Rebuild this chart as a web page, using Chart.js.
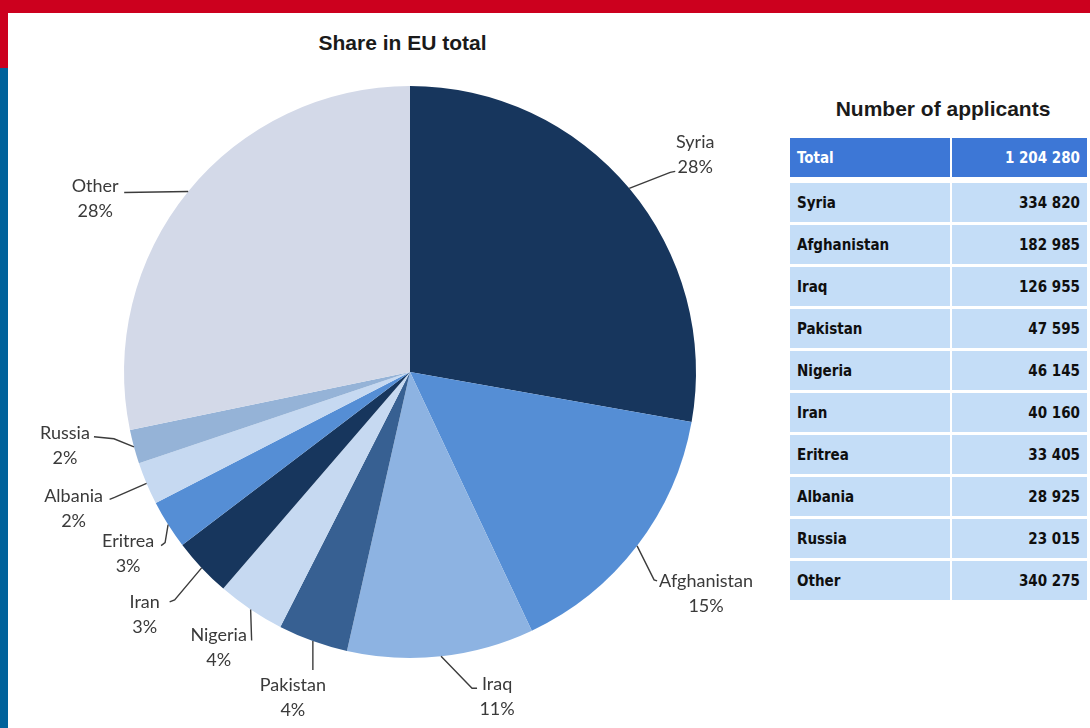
<!DOCTYPE html>
<html>
<head>
<meta charset="utf-8">
<script src="https://cdn.jsdelivr.net/npm/chart.js@4.4.1/dist/chart.umd.min.js"></script>
<style>
  body { margin: 0; width: 1090px; height: 728px; background: #fff; position: relative; overflow: hidden; font-family: Lato, sans-serif; }
  .topbar { position: absolute; left: 0; top: 0; width: 1090px; height: 13px; background: #cc001e; }
  .redside { position: absolute; left: 0; top: 0; width: 8px; height: 68px; background: #cc001e; }
  .blueside { position: absolute; left: 0; top: 68px; width: 8px; height: 660px; background: #00629b; }
  .title { position: absolute; left: 250px; width: 305px; top: 31px; text-align: center; font: bold 21px "Liberation Sans", Arial, sans-serif; color: #1a1a1a; }
  .ttitle { position: absolute; left: 800px; width: 286px; top: 97px; text-align: center; font: bold 21px "Liberation Sans", Arial, sans-serif; color: #1a1a1a; }
  #chartBox { position: absolute; left: 10px; top: 14px; width: 780px; height: 714px; }
  table { position: absolute; left: 790px; top: 138px; width: 297px; border-collapse: separate; border-spacing: 0; font: bold 15px "DejaVu Sans Condensed", "DejaVu Sans", sans-serif; color: #0f0f0f; }
  td { height: 39px; padding: 0 7px; background: #c4ddf7; border-bottom: 3px solid #fff; }
  td.num { text-align: right; border-left: 2px solid #fff; }
  tr.head td { background: #3d77d6; color: #fff; border-bottom-width: 6px; }
</style>
</head>
<body>
<div class="topbar"></div>
<div class="redside"></div>
<div class="blueside"></div>
<div class="title">Share in EU total</div>
<div class="ttitle">Number of applicants</div>
<div id="chartBox"><canvas id="pieChart"></canvas></div>
<table id="appTable"></table>
<script>
const countries = ['Syria', 'Afghanistan', 'Iraq', 'Pakistan', 'Nigeria', 'Iran', 'Eritrea', 'Albania', 'Russia', 'Other'];
const applicants = [334820, 182985, 126955, 47595, 46145, 40160, 33405, 28925, 23015, 340275];
const sliceColors = ['#17365d', '#558ed5', '#8db3e2', '#376092', '#c6d9f1', '#17365d', '#558ed5', '#c6d9f1', '#95b3d7', '#d3d9e8'];

// leader line elbow/end and text offsets, relative to the slice edge point
const labelLayout = [
  { p1: [41, -16], p2: [46, -17], t: [66, -46] },
  { p1: [17, 34], p2: [20, 35], t: [69, 35] },
  { p1: [31, 32], p2: [36, 32], t: [56, 28] },
  { p1: [0, 29], p2: [0, 29], t: [-20, 44] },
  { p1: [1, 31], p2: [1, 31], t: [-32, 26] },
  { p1: [-27, 32], p2: [-32, 34], t: [-57, 34] },
  { p1: [-3, 18], p2: [-7, 21], t: [-40, 17] },
  { p1: [-32, 14], p2: [-37, 16], t: [-73, 13] },
  { p1: [-20, -8], p2: [-40, -10], t: [-69, -14] },
  { p1: [-64, 1], p2: [-64, 1], t: [-93, -5] }
];

const total = applicants.reduce((a, b) => a + b, 0);
const fmt = n => String(n).replace(/\B(?=(\d{3})+(?!\d))/g, ' ');

// table
const tbl = document.getElementById('appTable');
let rows = '<tr class="head"><td>Total</td><td class="num">' + fmt(total) + '</td></tr>';
countries.forEach((c, i) => {
  rows += '<tr><td>' + c + '</td><td class="num">' + fmt(applicants[i]) + '</td></tr>';
});
tbl.innerHTML = rows;

const pieLabels = {
  id: 'pieLabels',
  afterDatasetsDraw(chart) {
    const ctx = chart.ctx;
    const meta = chart.getDatasetMeta(0);
    ctx.save();
    ctx.strokeStyle = '#3c3c3c';
    ctx.lineWidth = 1.4;
    ctx.fillStyle = '#3a3a3a';
    ctx.font = '18px Lato, sans-serif';
    ctx.textAlign = 'center';
    ctx.textBaseline = 'middle';
    meta.data.forEach((arc, i) => {
      const p = arc.getProps(['x', 'y', 'startAngle', 'endAngle', 'outerRadius'], true);
      const mid = (p.startAngle + p.endAngle) / 2;
      const ax = p.x + Math.cos(mid) * p.outerRadius;
      const ay = p.y + Math.sin(mid) * p.outerRadius;
      const L = labelLayout[i];
      ctx.beginPath();
      ctx.moveTo(ax, ay);
      ctx.lineTo(ax + L.p1[0], ay + L.p1[1]);
      ctx.lineTo(ax + L.p2[0], ay + L.p2[1]);
      ctx.stroke();
      const pct = Math.round(applicants[i] / total * 100) + '%';
      ctx.fillText(countries[i], ax + L.t[0], ay + L.t[1]);
      ctx.fillText(pct, ax + L.t[0], ay + L.t[1] + 25);
    });
    ctx.restore();
  }
};

new Chart(document.getElementById('pieChart').getContext('2d'), {
  type: 'pie',
  data: {
    labels: countries,
    datasets: [{
      data: applicants,
      backgroundColor: sliceColors,
      borderWidth: 0
    }]
  },
  options: {
    responsive: true,
    maintainAspectRatio: false,
    animation: false,
    layout: { padding: { left: 114, right: 94, top: 72, bottom: 70 } },
    plugins: { legend: { display: false }, tooltip: { enabled: false } }
  },
  plugins: [pieLabels]
});
</script>
</body>
</html>
